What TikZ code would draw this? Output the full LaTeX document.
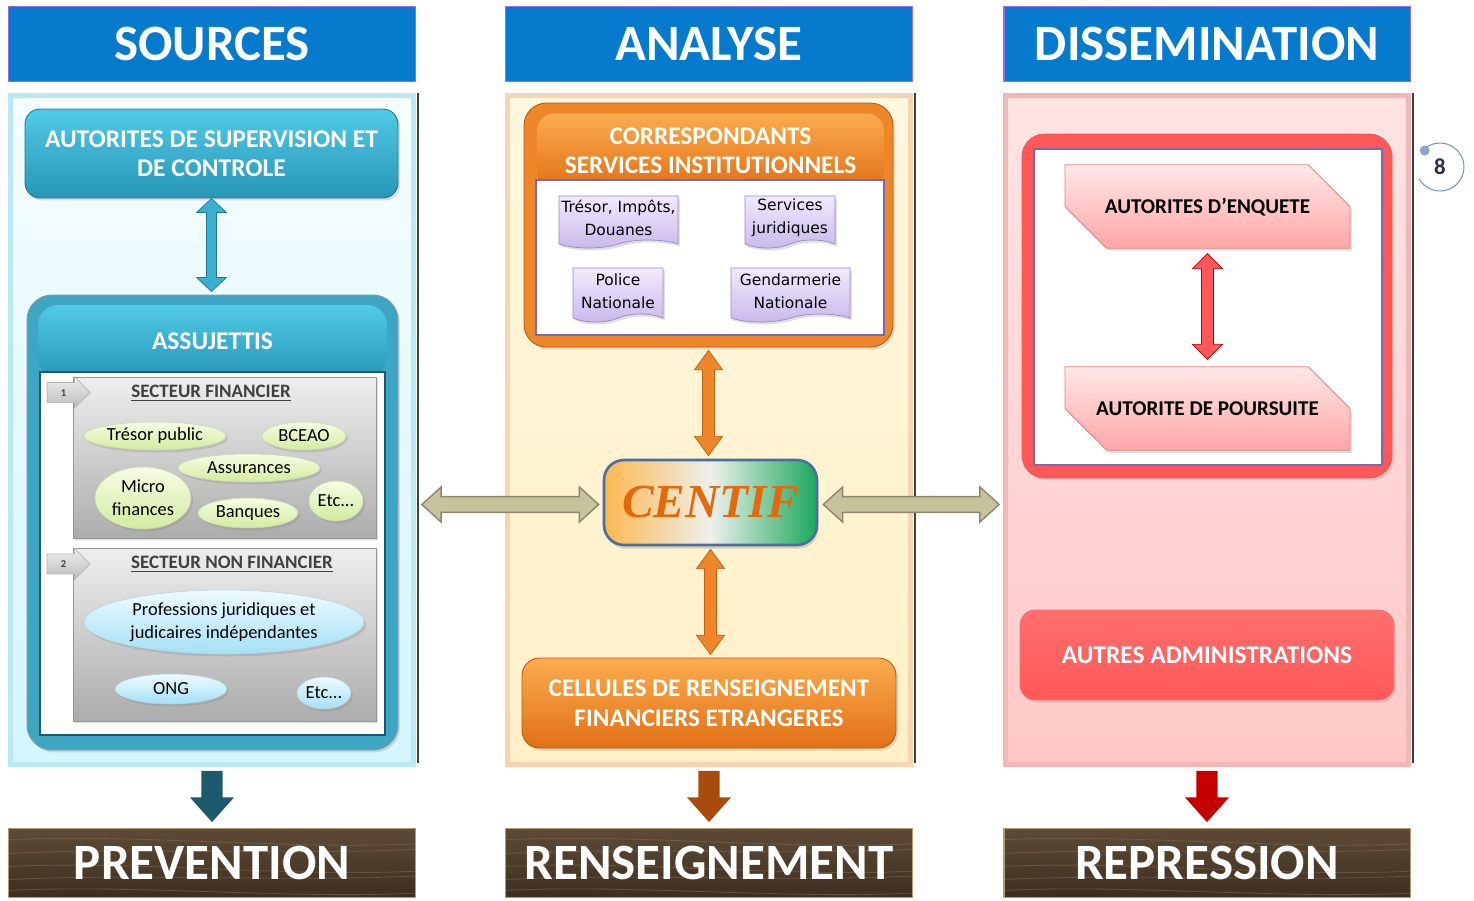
\documentclass[tikz,border=0pt]{standalone}
\usepackage{fontspec}
\setmainfont{Carlito}
\newfontfamily\docfont{DejaVu Sans}
\newfontfamily\centiffont{Liberation Serif}
\usetikzlibrary{shapes.misc,shapes.symbols,shapes.arrows,shapes.geometric,calc,shadows}
\definecolor{hdrblue}{RGB}{6,122,204}
\definecolor{hdrline}{RGB}{150,110,230}
\definecolor{tealA}{RGB}{80,202,230}
\definecolor{tealB}{RGB}{40,150,182}
\definecolor{tealF}{RGB}{62,166,194}
\definecolor{tealD}{RGB}{30,90,110}
\definecolor{tealArr}{RGB}{58,175,207}
\definecolor{orA}{RGB}{250,172,78}
\definecolor{orB}{RGB}{226,112,22}
\definecolor{orF}{RGB}{238,134,42}
\definecolor{orD}{RGB}{168,76,14}
\definecolor{redF}{RGB}{255,88,88}
\definecolor{redL}{RGB}{255,110,110}
\definecolor{redD}{RGB}{196,0,0}
\definecolor{pinkA}{RGB}{255,232,232}
\definecolor{pinkB}{RGB}{255,166,166}
\definecolor{pinkD}{RGB}{226,130,130}
\definecolor{khaki}{RGB}{200,194,156}
\definecolor{khakiD}{RGB}{140,136,112}
\definecolor{woodA}{RGB}{94,74,54}
\definecolor{woodB}{RGB}{62,46,32}
\definecolor{woodline}{RGB}{130,108,80}
\definecolor{woodedge}{RGB}{176,156,112}
\definecolor{grayA}{RGB}{238,238,238}
\definecolor{grayB}{RGB}{172,172,172}
\definecolor{grayD}{RGB}{150,150,150}
\definecolor{greenA}{RGB}{248,252,228}
\definecolor{greenB}{RGB}{210,236,158}
\definecolor{blueA}{RGB}{238,250,255}
\definecolor{blueB}{RGB}{164,224,246}
\definecolor{lavA}{RGB}{242,234,252}
\definecolor{lavB}{RGB}{200,184,236}
\definecolor{lavD}{RGB}{150,136,200}
\definecolor{purpleline}{RGB}{120,104,184}
\definecolor{centifO}{RGB}{226,106,12}
\definecolor{centifL}{RGB}{253,184,80}
\definecolor{centifM}{RGB}{238,240,236}
\definecolor{centifG}{RGB}{26,168,92}
\definecolor{centifB}{RGB}{74,110,160}
\definecolor{srcA}{RGB}{246,253,255}
\definecolor{srcB}{RGB}{212,245,252}
\definecolor{srcE}{RGB}{186,232,243}
\definecolor{anaA}{RGB}{255,247,222}
\definecolor{anaB}{RGB}{255,240,200}
\definecolor{anaE}{RGB}{246,214,178}
\definecolor{disA}{RGB}{255,228,228}
\definecolor{disB}{RGB}{255,200,200}
\definecolor{disE}{RGB}{242,182,182}
\definecolor{pgline}{RGB}{110,150,200}
\definecolor{pgtext}{RGB}{46,42,78}
\definecolor{sectext}{RGB}{64,64,64}

% vertical double block arrow: top point, bottom point, half shaft, half head, head length, style
\newcommand\dblV[6]{\path[#6] let \p1=#1, \p2=#2 in
  (\x1,\y1) -- ({\x1+#4},{\y1-#5}) -- ({\x1+#3},{\y1-#5}) -- ({\x1+#3},{\y2+#5})
  -- ({\x1+#4},{\y2+#5}) -- (\x1,\y2) -- ({\x1-#4},{\y2+#5}) -- ({\x1-#3},{\y2+#5})
  -- ({\x1-#3},{\y1-#5}) -- ({\x1-#4},{\y1-#5}) -- cycle;}
% horizontal double block arrow: left point, right point, half shaft, half head, head length, style
\newcommand\dblH[6]{\path[#6] let \p1=#1, \p2=#2 in
  (\x1,\y1) -- ({\x1+#5},{\y1+#4}) -- ({\x1+#5},{\y1+#3}) -- ({\x2-#5},{\y1+#3})
  -- ({\x2-#5},{\y1+#4}) -- (\x2,\y1) -- ({\x2-#5},{\y1-#4}) -- ({\x2-#5},{\y1-#3})
  -- ({\x1+#5},{\y1-#3}) -- ({\x1+#5},{\y1-#4}) -- cycle;}
% single down block arrow
\newcommand\downA[6]{\path[#6] let \p1=#1, \p2=#2 in
  ({\x1-#3},\y1) -- ({\x1+#3},\y1) -- ({\x1+#3},{\y2+#5}) -- ({\x1+#4},{\y2+#5})
  -- (\x1,\y2) -- ({\x1-#4},{\y2+#5}) -- ({\x1-#3},{\y2+#5}) -- cycle;}

\tikzset{
  softshadow/.style={drop shadow={opacity=0.25,shadow xshift=0.04cm,shadow yshift=-0.05cm}},
  hdr/.style={draw=hdrline, line width=0.8pt, fill=hdrblue, minimum width=8.13cm,
    minimum height=1.49cm, inner sep=0, text=white, font=\fontsize{29}{33}\selectfont\bfseries},
  woodbar/.style={draw=woodedge, line width=0.8pt, top color=woodA, bottom color=woodB,
    minimum width=8.13cm, minimum height=1.37cm, inner sep=0, text=white,
    font=\fontsize{29}{33}\selectfont\bfseries,
    path picture={
      \foreach \ka/\kb in {0.16/0.22,0.36/0.30,0.55/0.62,0.74/0.69,0.9/0.94}{
        \draw[woodline, line width=0.5pt, opacity=0.55]
          ($(path picture bounding box.north west)!\ka!(path picture bounding box.south west)$)
          .. controls +(2.6cm,0.12cm) and +(-2.6cm,-0.12cm) ..
          ($(path picture bounding box.north east)!\kb!(path picture bounding box.south east)$);}}},
  panelbox/.style={minimum width=8.05cm, minimum height=13.37cm, line width=3pt, inner sep=0},
  tealbox/.style={rounded corners=0.3cm, top color=tealA, bottom color=tealB,
    draw=tealB!80!black, line width=0.5pt, text=white, align=center, inner sep=0,
    font=\fontsize{14.5}{16.8}\selectfont\bfseries, softshadow},
  secbox/.style={chamfered rectangle, chamfered rectangle corners=north west,
    chamfered rectangle xsep=1.14cm, chamfered rectangle ysep=0.62cm,
    top color=grayA, bottom color=grayB, draw=grayD, line width=0.5pt,
    minimum width=6.06cm, inner sep=0, softshadow},
  sectitle/.style={text=sectext, font=\fontsize{10.8}{12}\selectfont\bfseries, inner sep=0},
  numarrow/.style={single arrow, single arrow head extend=0.11cm, minimum height=0.86cm,
    inner xsep=1pt, inner ysep=0.12cm, text height=0.15cm, text depth=0cm,
    top color=grayA, bottom color=grayB!80,
    draw=grayD!70, line width=0.4pt, font=\fontsize{6}{7}\selectfont\bfseries, text=sectext},
  greenell/.style={ellipse, inner sep=0, top color=greenA, bottom color=greenB,
    draw=greenB!80!black!60, line width=0.3pt, align=center,
    font=\fontsize{10.5}{13}\selectfont, softshadow},
  blueell/.style={ellipse, inner sep=0, top color=blueA, bottom color=blueB,
    draw=blueB!80!black!60, line width=0.3pt, align=center,
    font=\fontsize{10.5}{13}\selectfont, softshadow},
  orbox/.style={rounded corners=0.35cm, top color=orA, bottom color=orB, draw=orB!80!black,
    line width=0.5pt, text=white, align=center, inner sep=0,
    font=\fontsize{14.4}{17}\selectfont\bfseries},
  docshape/.style={tape, tape bend top=none, tape bend height=0.16cm, top color=lavA,
    bottom color=lavB, draw=lavD, line width=0.4pt, inner sep=0, align=center,
    font=\docfont\fontsize{8.8}{13}\selectfont, softshadow},
  snipbox/.style={chamfered rectangle, chamfered rectangle corners={north east,south west},
    chamfered rectangle xsep=0.8cm, chamfered rectangle ysep=0.7cm,
    text height=0.27cm, text depth=0cm,
    top color=pinkA, bottom color=pinkB, draw=pinkD, line width=0.5pt,
    minimum width=5.7cm, minimum height=1.66cm, inner sep=0,
    font=\fontsize{12}{14}\selectfont\bfseries, softshadow},
  tealarrow/.style={fill=tealArr, draw=tealB!80!black, line width=0.4pt},
  orarrow/.style={fill=orF, draw=orB!85!black, line width=0.4pt},
  redarrow/.style={fill=redF, draw=red!70!black, line width=0.4pt},
  khakiarrow/.style={fill=khaki, draw=khakiD, line width=0.8pt},
}

\begin{document}
\begin{tikzpicture}[x=0.02cm,y=-0.02cm]
\useasboundingbox (0,0) rectangle (1474,900);

% ---------- panels ----------
\node[panelbox, top color=srcA, bottom color=srcB, draw=srcE] (psrc) at (212,430) {};
\node[panelbox, top color=anaA, bottom color=anaB, draw=anaE] (pana) at (709,430) {};
\node[panelbox, top color=disA, bottom color=disB, draw=disE] (pdis) at (1207,430) {};
\draw[black!75, line width=1.1pt] ($(psrc.north east)+(2,0)$) -- ($(psrc.south east)+(2,-4)$);
\draw[black!75, line width=1.1pt] ($(pana.north east)+(2,0)$) -- ($(pana.south east)+(2,-4)$);
\draw[black!75, line width=1.1pt] ($(pdis.north east)+(2,0)$) -- ($(pdis.south east)+(2,-4)$);

% ---------- headers ----------
\node[hdr] (hsrc) at (212,44) {SOURCES};
\node[hdr] (hana) at (709,44) {ANALYSE};
\node[hdr] (hdis) at (1207,44) {DISSEMINATION};

% ---------- bottom bars ----------
\node[woodbar] (bprev) at (212,863) {PREVENTION};
\node[woodbar] (bren) at (709,863) {RENSEIGNEMENT};
\node[woodbar] (brep) at (1207,863) {REPRESSION};

% ---------- SOURCES column ----------
\node[tealbox, minimum width=7.46cm, minimum height=1.78cm] (aut) at (211.5,153.5)
  {AUTORITES DE SUPERVISION ET\\DE CONTROLE};

\node[rounded corners=0.5cm, fill=tealF, draw=tealD!60, line width=0.6pt,
  minimum width=7.42cm, minimum height=9.1cm, inner sep=0, softshadow] (assujframe) at (212.5,522.5) {};
\node[rounded corners=0.4cm, top color=tealA, bottom color=tealB, inner sep=0,
  minimum width=6.98cm, minimum height=1.44cm, text=white,
  font=\fontsize{14.5}{16}\selectfont\bfseries] (assujhead) at (212.5,341) {ASSUJETTIS};
\node[fill=white, draw=tealD, line width=0.8pt, minimum width=6.9cm, minimum height=7.26cm,
  inner sep=0] (assujin) at (212.5,553.5) {};

% sector 1
\node[secbox, minimum height=3.22cm] (sec1) at (224.5,457.5) {};
\node[numarrow] (n1) at (63.5,392.5) {1};
\node[sectitle] (t1) at (211,393) {\underline{SECTEUR FINANCIER}};
\node[greenell, minimum width=2.84cm, minimum height=0.56cm] (e1) at (155,436) {Trésor public};
\node[greenell, minimum width=1.68cm, minimum height=0.56cm] (e2) at (304,436) {BCEAO};
\node[greenell, minimum width=2.84cm, minimum height=0.56cm] (e3) at (249,468) {Assurances};
\node[greenell, minimum width=1.92cm, minimum height=1.24cm] (e4) at (143,498) {Micro\\finances};
\node[greenell, minimum width=2.0cm, minimum height=0.6cm] (e5) at (248,513) {Banques};
\node[greenell, minimum width=1.08cm, minimum height=0.8cm] (e6) at (336,501) {Etc...};

% sector 2
\node[secbox, minimum height=3.46cm] (sec2) at (224.5,634.5) {};
\node[numarrow] (n2) at (63.5,564) {2};
\node[sectitle] (t2) at (232,564) {\underline{SECTEUR NON FINANCIER}};
\node[blueell, minimum width=5.6cm, minimum height=1.28cm] (f1) at (224,622)
  {Professions juridiques et\\judicaires indépendantes};
\node[blueell, minimum width=2.24cm, minimum height=0.6cm] (f2) at (171,689) {ONG};
\node[blueell, minimum width=1.08cm, minimum height=0.64cm] (f3) at (324,693) {Etc...};

% ---------- ANALYSE column ----------
\node[rounded corners=0.45cm, fill=orF, draw=orB!80!black, line width=0.5pt,
  minimum width=7.38cm, minimum height=4.88cm, inner sep=0, softshadow] (corr) at (708.5,225) {};
\node[rounded corners=0.35cm, top color=orA, bottom color=orB, inner sep=0,
  minimum width=6.94cm, minimum height=1.5cm, text=white, align=center,
  font=\fontsize{14.4}{16.8}\selectfont\bfseries] (corrhead) at (710.5,151)
  {CORRESPONDANTS\\SERVICES INSTITUTIONNELS};
\node[fill=white, draw=purpleline, line width=0.8pt, minimum width=6.96cm,
  minimum height=3.1cm, inner sep=0] (corrin) at (710,257.5) {};
\node[docshape, minimum width=2.38cm, minimum height=1.04cm] (d1) at (618.5,218) {Trésor, Impôts,\\Douanes};
\node[docshape, minimum width=1.8cm, minimum height=1.04cm] (d2) at (790,218) {Services\\juridiques};
\node[docshape, minimum width=1.8cm, minimum height=1.08cm] (d3) at (618,291) {Police\\Nationale};
\node[docshape, minimum width=2.38cm, minimum height=1.08cm] (d4) at (790.5,291) {Gendarmerie\\Nationale};

\node[rounded corners=0.4cm, left color=centifL, right color=centifG, middle color=centifM,
  draw=centifB, line width=1.5pt, minimum width=4.26cm, minimum height=1.7cm, inner sep=0,
  text=centifO, font=\centiffont\fontsize{27}{30}\selectfont\bfseries\itshape,
  drop shadow={opacity=0.3,shadow xshift=0.03cm,shadow yshift=-0.07cm}] (centif) at (710.5,502.5) {CENTIF};

\node[orbox, minimum width=7.48cm, minimum height=1.8cm, softshadow] (cell) at (709,703)
  {CELLULES DE RENSEIGNEMENT\\FINANCIERS ETRANGERES};

% ---------- DISSEMINATION column ----------
\node[rounded corners=0.45cm, fill=redF, draw=red!70!black!60, line width=0.5pt,
  minimum width=7.4cm, minimum height=6.88cm, inner sep=0, softshadow] (redframe) at (1207,306) {};
\node[fill=white, draw=purpleline, line width=0.8pt, minimum width=6.96cm,
  minimum height=6.32cm, inner sep=0] (redin) at (1208,307) {};
\node[snipbox] (enq) at (1207.5,206.5) {AUTORITES D’ENQUETE};
\node[snipbox] (pours) at (1207.5,408.5) {AUTORITE DE POURSUITE};
\node[rounded corners=0.3cm, top color=redL, bottom color=redF, draw=red!70!black!50,
  line width=0.5pt, minimum width=7.48cm, minimum height=1.8cm, inner sep=0, text=white,
  font=\fontsize{14.5}{17}\selectfont\bfseries, softshadow] (autres) at (1207,655)
  {AUTRES ADMINISTRATIONS};

% page number
\node[text=pgtext, font=\fontsize{13}{15}\selectfont\bfseries, minimum size=0.96cm, inner sep=0] (pg) at (1440,167) {8};
\draw[pgline, line width=0.6pt] ($(pg.center)+(130:0.48cm)$) arc[start angle=130, end angle=-150, radius=0.48cm];
\fill[pgline!85] ($(pg.center)+(133:0.45cm)$) circle[radius=0.1cm];

% ---------- connectors ----------
\dblV{(aut.south)}{($(assujframe.north)+(0,-3)$)}{2.8pt}{8.5pt}{8pt}{tealarrow}
\dblV{($(corr.south)+(0,3)$)}{($(centif.north)+(0,-3)$)}{3.4pt}{8pt}{11pt}{orarrow}
\dblV{($(centif.south)+(0,3)$)}{($(cell.north)+(0,-3)$)}{3.4pt}{8pt}{11pt}{orarrow}
\dblV{($(enq.south)+(0,5)$)}{($(pours.north)+(0,-7)$)}{3.4pt}{8.5pt}{8.5pt}{redarrow}
\dblH{($(psrc.east |- centif.west)+(6,2)$)}{($(centif.west)+(-4,2)$)}{4.5pt}{10pt}{11pt}{khakiarrow}
\dblH{($(centif.east)+(5,2)$)}{($(pdis.west |- centif.east)+(-4,2)$)}{4.5pt}{10pt}{11pt}{khakiarrow}
\downA{($(psrc.south)+(0,4)$)}{($(bprev.north)+(0,-6)$)}{6pt}{12.5pt}{14pt}{fill=tealD}
\downA{($(pana.south)+(0,4)$)}{($(bren.north)+(0,-6)$)}{6pt}{12.5pt}{14pt}{fill=orD}
\downA{($(pdis.south)+(0,4)$)}{($(brep.north)+(0,-6)$)}{6pt}{12.5pt}{14pt}{fill=redD}
\end{tikzpicture}
\end{document}
